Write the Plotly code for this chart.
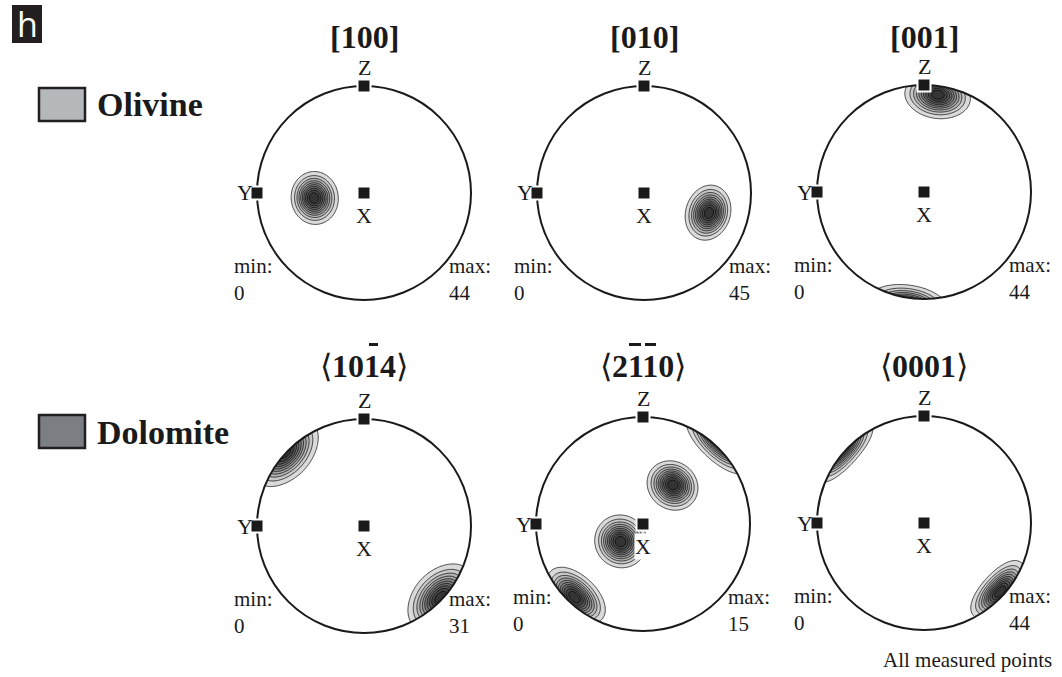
import numpy as np
import plotly.graph_objects as go

W, H = 1062, 677
R = 107.0          # pole-figure radius in px
S = 1.28           # half range of each subplot (in radius units)

# ---------------- data ----------------
PF_TITLES = ["<b>[100]</b>", "<b>[010]</b>", "<b>[001]</b>",
             "⟨<b>1014</b>⟩", "⟨<b>2110</b>⟩", "⟨<b>0001</b>⟩"]
PF_CX = [364, 644, 924, 364, 643, 924]
PF_CY = [193, 193, 192, 526, 524, 523]
PF_MIN = [0, 0, 0, 0, 0, 0]
PF_MAX = [44, 45, 44, 31, 15, 44]

# density maxima (projected centre in unit-circle coords, angular half widths in deg)
BLOB_FIG = [0, 1, 2, 3, 4, 4, 4, 5]
BLOB_X = [-0.467, 0.607, 0.129, 0.720, 0.28, -0.21, -0.64, 0.713]
BLOB_Y = [-0.047, -0.187, 0.909, -0.672, 0.365, -0.165, -0.684, -0.642]
BLOB_WR = [19, 19, 22, 26, 19, 20, 21, 18.5]
BLOB_WT = [19, 19, 19, 21, 19, 20, 20, 20]
BLOB_AMP = [1, 1, 1, 1, 1, 1, 1, 1]

PHASES = ["Olivine", "Dolomite"]
PHASE_COLORS = ["#b4b8bb", "#7b7e83"]
PHASE_Y = [105, 432]

LEVEL_START, LEVEL_SIZE, LEVEL_END = 0.10, 0.09, 0.92

FONT = "Liberation Serif, Times New Roman, serif"
INK = "#1a1a1a"


def px(x):
    return x / W


def py(y):
    return 1 - y / H


fig = go.Figure()

# grid on the equal-area projection
g = np.linspace(-1.32, 1.32, 331)
XX, YY = np.meshgrid(g, g)
rho = np.hypot(XX, YY)
valid = rho < np.sqrt(2) - 1e-6
theta = 2 * np.arcsin(np.clip(rho / np.sqrt(2), 0, 1))
phi = np.arctan2(YY, XX)
V = np.stack([np.sin(theta) * np.cos(phi), np.sin(theta) * np.sin(phi), np.cos(theta)])

nc = int(np.floor((LEVEL_END - LEVEL_START) / LEVEL_SIZE)) + 1
colorscale = [[0.0, "#ffffff"], [1.0 / nc, "#dadada"], [1.0, "#343434"]]

shapes = []
annotations = []
layout_axes = {}

th = np.linspace(0, 2 * np.pi, 241)
circle_pts = " ".join(f"L{np.cos(t):.4f},{np.sin(-t):.4f}" for t in th[1:])
mask_path = ("M-1.5,-1.5 L1.5,-1.5 L1.5,1.5 L-1.5,1.5 Z "
             f"M1,0 {circle_pts} Z")

for k in range(6):
    cx, cy = PF_CX[k], PF_CY[k]
    xa = "x" if k == 0 else f"x{k+1}"
    ya = "y" if k == 0 else f"y{k+1}"
    xname = "xaxis" if k == 0 else f"xaxis{k+1}"
    yname = "yaxis" if k == 0 else f"yaxis{k+1}"
    layout_axes[xname] = dict(domain=[px(cx - S * R), px(cx + S * R)], range=[-S, S],
                              visible=False, fixedrange=True, anchor=ya)
    layout_axes[yname] = dict(domain=[py(cy + S * R), py(cy - S * R)], range=[-S, S],
                              visible=False, fixedrange=True, anchor=xa)

    Z = np.zeros_like(XX)
    for b in range(len(BLOB_FIG)):
        if BLOB_FIG[b] != k:
            continue
        xc, yc = BLOB_X[b], BLOB_Y[b]
        rc = np.hypot(xc, yc)
        tc = 2 * np.arcsin(rc / np.sqrt(2))
        pc = np.arctan2(yc, xc)
        e1 = np.array([np.cos(tc) * np.cos(pc), np.cos(tc) * np.sin(pc), -np.sin(tc)])
        e2 = np.array([-np.sin(pc), np.cos(pc), 0.0])
        a = np.tensordot(e1, V, 1)
        c = np.tensordot(e2, V, 1)
        sr = np.sin(np.radians(BLOB_WR[b])) / 2.146
        st = np.sin(np.radians(BLOB_WT[b])) / 2.146
        Z += BLOB_AMP[b] * np.exp(-0.5 * ((a / sr) ** 2 + (c / st) ** 2))
    Z[~valid] = 0
    Z = Z / Z[rho <= 1].max()

    fig.add_trace(go.Contour(
        x=g, y=g, z=Z, xaxis=xa, yaxis=ya,
        autocontour=False,
        contours=dict(start=LEVEL_START, end=LEVEL_END, size=LEVEL_SIZE, coloring="fill"),
        colorscale=colorscale, showscale=False,
        line=dict(color="#000000", width=0.7, smoothing=1),
        hoverinfo="skip",
    ))

    # white mask outside the primitive circle
    shapes.append(dict(type="path", xref=xa, yref=ya, path=mask_path,
                       fillcolor="white", line=dict(width=0), layer="above"))
    shapes.append(dict(type="circle", xref=xa, yref=ya, x0=-1, y0=-1, x1=1, y1=1,
                       line=dict(color=INK, width=2), layer="above"))
    hs = 6.5 / R
    for (mx, my) in [(0, 1), (-1, 0), (0, 0)]:
        shapes.append(dict(type="rect", xref=xa, yref=ya,
                           x0=mx - hs, x1=mx + hs, y0=my - hs, y1=my + hs,
                           fillcolor=INK, line=dict(color="white", width=2), layer="above"))

    lab = dict(xref="paper", yref="paper", showarrow=False,
               font=dict(family=FONT, size=22, color=INK))
    annotations.append(dict(lab, x=px(cx), y=py(cy - 126), text="Z",
                            xanchor="center", yanchor="middle"))
    annotations.append(dict(lab, x=px(cx - R - 2), y=py(cy), text="Y",
                            xanchor="right", yanchor="middle"))
    annotations.append(dict(lab, x=px(cx), y=py(cy + 22), text="X", xanchor="center",
                            yanchor="middle", bgcolor="white", borderpad=0))
    annotations.append(dict(lab, x=px(cx - 132), y=py(cy + 86), text=f"min:<br>{PF_MIN[k]}",
                            xanchor="left", yanchor="middle", align="left",
                            font=dict(family=FONT, size=21, color=INK)))
    annotations.append(dict(lab, x=px(cx + 83), y=py(cy + 86), text=f"max:<br>{PF_MAX[k]}",
                            xanchor="left", yanchor="middle", align="left",
                            font=dict(family=FONT, size=21, color=INK)))
    ty = 37 if k < 3 else 366
    annotations.append(dict(xref="paper", yref="paper", showarrow=False, x=px(cx), y=py(ty),
                            text=PF_TITLES[k], xanchor="center", yanchor="middle",
                            font=dict(family=FONT, size=32, color=INK)))

# overbars for Miller-Bravais indices
for (x0, x1) in [(369, 378), (629, 641), (645, 656)]:
    shapes.append(dict(type="line", xref="paper", yref="paper", x0=px(x0), x1=px(x1),
                       y0=py(344.5), y1=py(344.5), line=dict(color=INK, width=3)))

# panel letter
shapes.append(dict(type="rect", xref="paper", yref="paper", x0=px(12), x1=px(42),
                   y0=py(43), y1=py(5), fillcolor="#231f20", line=dict(width=0)))
annotations.append(dict(xref="paper", yref="paper", x=px(27), y=py(24), text="h", showarrow=False,
                        xanchor="center", yanchor="middle",
                        font=dict(family="Open Sans, Liberation Sans, sans-serif", size=34, color="white")))

# phase legend
for name, col, yc in zip(PHASES, PHASE_COLORS, PHASE_Y):
    shapes.append(dict(type="rect", xref="paper", yref="paper", x0=px(39), x1=px(85),
                       y0=py(yc + 16), y1=py(yc - 17), fillcolor=col,
                       line=dict(color="#231f20", width=2.5)))
    annotations.append(dict(xref="paper", yref="paper", x=px(95), y=py(yc), text=f"<b>{name}</b>",
                            showarrow=False, xanchor="left", yanchor="middle",
                            font=dict(family=FONT, size=34, color=INK)))

annotations.append(dict(xref="paper", yref="paper", x=px(1054), y=py(660), text="All measured points",
                        showarrow=False, xanchor="right", yanchor="middle",
                        font=dict(family=FONT, size=21, color=INK)))

fig.update_layout(
    width=W, height=H, margin=dict(l=0, r=0, t=0, b=0),
    paper_bgcolor="white", plot_bgcolor="white",
    showlegend=False, shapes=shapes, annotations=annotations,
    **layout_axes,
)

fig.write_html("out.html", config={"displayModeBar": False},
               post_script="document.body.style.margin='0';document.body.style.overflow='hidden';")
